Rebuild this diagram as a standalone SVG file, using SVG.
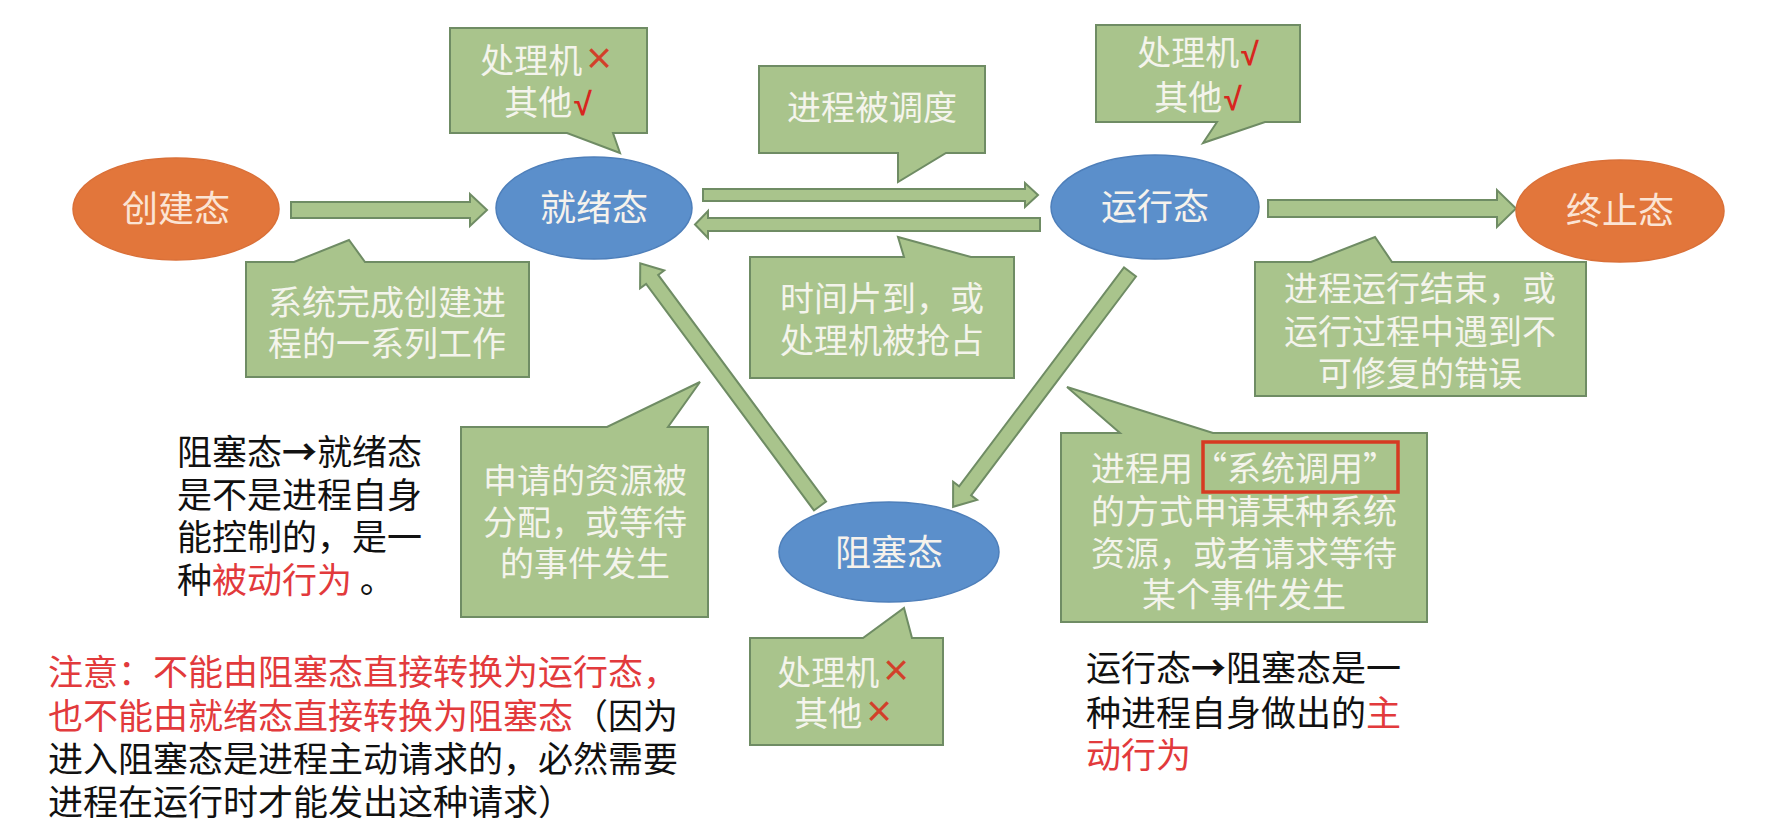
<svg xmlns="http://www.w3.org/2000/svg" width="1779" height="834" viewBox="0 0 1779 834">
<style>
  .cjk { font-family: "Noto Sans CJK SC", "Noto Sans", sans-serif; }
  .box { fill: #A9C48C; stroke: #6F8C64; stroke-width: 2; }
  .arrow { fill: #A9C48C; stroke: #6F8C64; stroke-width: 2; stroke-linejoin: miter; }
  .blue { fill: #5B8FCB; stroke: #4E7FBA; stroke-width: 1.5; }
  .orange { fill: #E2763B; stroke: #DA7038; stroke-width: 1.5; }
  .lbl { font-size: 34px; fill: #F4F4EC; text-anchor: middle; }
  .elbl { font-size: 36px; fill: #F6F2EC; text-anchor: middle; }
  .olbl { font-size: 36px; fill: #FBE4D4; text-anchor: middle; }
  .note { font-size: 35px; fill: #111111; }
  .red { fill: #E23A3C; }
  .x { font-family: "Liberation Sans", sans-serif; font-size: 44px; fill: #D2402A; }
  .ok { font-family: "Liberation Sans", sans-serif; font-size: 32px; font-weight: bold; fill: #D8261E; }
  .arr { font-weight: bold; }
</style>
<rect width="1779" height="834" fill="#FFFFFF"/>

<g id="connectors">
  <path class="arrow" d="M291,202 H470 V194 L487,210 L470,226 V218 H291 Z"/>
  <path class="arrow" d="M703,189 H1025 V183 L1038,195 L1025,207 V201 H703 Z"/>
  <path class="arrow" d="M1040,218 H708 V211 L695,224.5 L708,238 V231 H1040 Z"/>
  <path class="arrow" d="M1268,200 H1497 V190 L1516,208.5 L1497,227 V217 H1268 Z"/>
  <path class="arrow" transform="translate(820,506) rotate(-126.53)" d="M0,-7.5 H282 V-15 L302,0 L282,15 V7.5 H0 Z"/>
  <path class="arrow" transform="translate(1130,272) rotate(127)" d="M0,-7.5 H274 V-15 L294,0 L274,15 V7.5 H0 Z"/>
</g>

<g id="node-create">
  <ellipse class="orange" cx="176" cy="209" rx="103" ry="51"/>
  <text class="cjk olbl" x="176" y="222">创建态</text>
</g>
<g id="node-ready">
  <ellipse class="blue" cx="594" cy="208" rx="98" ry="51"/>
  <text class="cjk elbl" x="594" y="221">就绪态</text>
</g>
<g id="node-running">
  <ellipse class="blue" cx="1155" cy="207" rx="104" ry="52"/>
  <text class="cjk elbl" x="1155" y="220">运行态</text>
</g>
<g id="node-terminated">
  <ellipse class="orange" cx="1620" cy="211" rx="104" ry="51"/>
  <text class="cjk olbl" x="1620" y="224">终止态</text>
</g>
<g id="node-blocked">
  <ellipse class="blue" cx="889" cy="552" rx="110" ry="50"/>
  <text class="cjk elbl" x="889" y="566">阻塞态</text>
</g>

<g id="callout-ready-res">
  <path class="box" d="M450,28 H647 V133 H613 L620,153 L567,133 H450 Z"/>
  <text class="cjk lbl"><tspan x="546" y="73">处理机<tspan class="x" dx="4">×</tspan></tspan><tspan x="548" y="115">其他<tspan class="ok" dx="2">√</tspan></tspan></text>
</g>
<g id="callout-create">
  <path class="box" d="M246,262 H294 L349,240 L365,262 H529 V377 H246 Z"/>
  <text class="cjk lbl"><tspan x="387" y="315">系统完成创建进</tspan><tspan x="387" y="356">程的一系列工作</tspan></text>
</g>
<g id="callout-dispatch">
  <path class="box" d="M759,66 H985 V153 H946 L898,182 V153 H759 Z"/>
  <text class="cjk lbl" x="872" y="120">进程被调度</text>
</g>
<g id="callout-running-res">
  <path class="box" d="M1096,25 H1300 V122 H1265 L1203,143 L1217,122 H1096 Z"/>
  <text class="cjk lbl"><tspan x="1198" y="65">处理机<tspan class="ok" dx="2">√</tspan></tspan><tspan x="1198" y="110">其他<tspan class="ok" dx="2">√</tspan></tspan></text>
</g>
<g id="callout-timeout">
  <path class="box" d="M750,257 H904 L898,237 L971,257 H1014 V378 H750 Z"/>
  <text class="cjk lbl"><tspan x="882" y="311">时间片到，或</tspan><tspan x="882" y="353">处理机被抢占</tspan></text>
</g>
<g id="callout-exit">
  <path class="box" d="M1255,262 H1311 L1375,237 L1392,262 H1586 V396 H1255 Z"/>
  <text class="cjk lbl"><tspan x="1420" y="301">进程运行结束，或</tspan><tspan x="1420" y="344">运行过程中遇到不</tspan><tspan x="1420" y="386">可修复的错误</tspan></text>
</g>
<g id="callout-wakeup">
  <path class="box" d="M461,427 H607 L700,382 L668,427 H708 V617 H461 Z"/>
  <text class="cjk lbl"><tspan x="585" y="493">申请的资源被</tspan><tspan x="585" y="535">分配，或等待</tspan><tspan x="585" y="576">的事件发生</tspan></text>
</g>
<g id="callout-blocked-res">
  <path class="box" d="M750,638 H863 L904,608 L912,638 H943 V745 H750 Z"/>
  <text class="cjk lbl"><tspan x="843" y="685">处理机<tspan class="x" dx="4">×</tspan></tspan><tspan x="843" y="726">其他<tspan class="x" dx="4">×</tspan></tspan></text>
</g>
<g id="callout-block">
  <path class="box" d="M1061,433 H1120 L1067,387 L1213,433 H1427 V622 H1061 Z"/>
  <rect x="1203" y="442" width="195" height="50" fill="none" stroke="#D63A22" stroke-width="3.5"/>
  <text class="cjk lbl"><tspan x="1244" y="481">进程用“系统调用”</tspan><tspan x="1244" y="524">的方式申请某种系统</tspan><tspan x="1244" y="566">资源，或者请求等待</tspan><tspan x="1244" y="607">某个事件发生</tspan></text>
</g>

<g id="note-passive">
  <text class="cjk note"><tspan x="177" y="465">阻塞态<tspan class="arr">→</tspan>就绪态</tspan><tspan x="177" y="508">是不是进程自身</tspan><tspan x="177" y="550">能控制的，是一</tspan><tspan x="177" y="593">种<tspan class="red">被动行为</tspan> 。</tspan></text>
</g>
<g id="note-attention">
  <text class="cjk note"><tspan class="red" x="48" y="685">注意：不能由阻塞态直接转换为运行态，</tspan><tspan x="48" y="729"><tspan class="red">也不能由就绪态直接转换为阻塞态</tspan>（因为</tspan><tspan x="48" y="772">进入阻塞态是进程主动请求的，必然需要</tspan><tspan x="48" y="815">进程在运行时才能发出这种请求）</tspan></text>
</g>
<g id="note-active">
  <text class="cjk note"><tspan x="1086" y="681">运行态<tspan class="arr">→</tspan>阻塞态是一</tspan><tspan x="1086" y="726">种进程自身做出的<tspan class="red">主</tspan></tspan><tspan class="red" x="1086" y="768">动行为</tspan></text>
</g>
</svg>
